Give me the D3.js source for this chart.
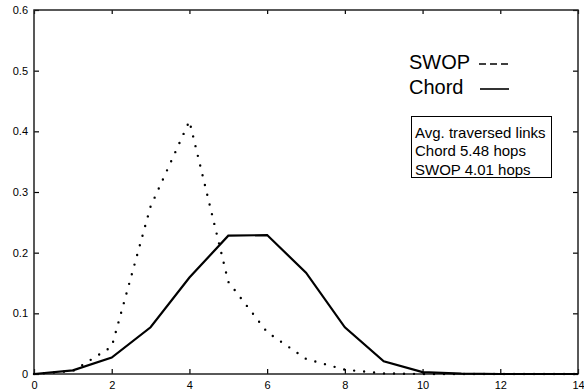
<!DOCTYPE html>
<html>
<head>
<meta charset="utf-8">
<title>Avg. traversed links</title>
<style>
  * { margin: 0; padding: 0 }
  html, body { width: 100%; height: 100%; background: #fff; }
  svg { display: block; }
  text { font-family: "Liberation Sans", Arial, Helvetica, sans-serif; fill: #000; }
</style>
</head>
<body>
<svg id="chart" width="584" height="391"></svg>
<script src="https://cdn.jsdelivr.net/npm/d3@7"></script>
<script>
// hops on the x axis
const hops = [0, 1, 2, 3, 4, 5, 6, 7, 8, 9, 10, 11, 12, 13, 14];
// fraction of lookups per hop count
const chordValues = [0, 0.006, 0.027, 0.077, 0.159, 0.228, 0.229, 0.167, 0.077, 0.021, 0.003, 0.0005, 0, 0, 0];
const swopValues = [0, 0.005, 0.045, 0.276, 0.417, 0.152, 0.069, 0.025, 0.007, 0.001, 0, 0, 0, 0, 0];
const xTicks = [0, 2, 4, 6, 8, 10, 12, 14];
const yTicks = [0, 0.1, 0.2, 0.3, 0.4, 0.5, 0.6];
const infoLines = ["Avg. traversed links", "Chord 5.48 hops", "SWOP 4.01 hops"];

const svg = d3.select("#chart");
const margin = { top: 10, right: 6, bottom: 17, left: 34 };
const width = 584 - margin.left - margin.right;
const height = 391 - margin.top - margin.bottom;

const x = d3.scaleLinear().domain([0, 14]).range([0, width]);
const y = d3.scaleLinear().domain([0, 0.6]).range([height, 0]);

const g = svg.append("g").attr("transform", `translate(${margin.left},${margin.top})`);

// axes, ticks point inward
const fmtY = d => d === 0 ? "0" : d3.format(".1f")(d);
const axes = [
  [d3.axisLeft(y).tickValues(yTicks).tickFormat(fmtY).tickSize(-5).tickPadding(6), null],
  [d3.axisRight(y).tickValues(yTicks).tickFormat("").tickSize(-5), `translate(${width},0)`],
  [d3.axisBottom(x).tickValues(xTicks).tickFormat(d3.format("d")).tickSize(-5).tickPadding(7), `translate(0,${height})`],
  [d3.axisTop(x).tickValues(xTicks).tickFormat("").tickSize(-4), null]
];
axes.forEach(([ax, tr]) => {
  const a = g.append("g").call(ax.tickSizeOuter(0));
  if (tr) a.attr("transform", tr);
  a.select(".domain").remove();
  a.selectAll(".tick line").attr("stroke", "#000").attr("stroke-width", 1.2);
  a.selectAll(".tick text").style("font-size", "11px").attr("fill", "#000");
});

// frame
g.append("rect")
  .attr("x", 0).attr("y", 0)
  .attr("width", width).attr("height", height)
  .attr("fill", "none").attr("stroke", "#222").attr("stroke-width", 1.5);

const line = vals => d3.line()
  .x((d, i) => x(hops[i]))
  .y(d => y(d))(vals);

// SWOP, dotted
g.append("path")
  .attr("d", line(swopValues))
  .attr("fill", "none").attr("stroke", "#000")
  .attr("stroke-width", 2.4)
  .attr("stroke-linecap", "round")
  .attr("stroke-dasharray", "0,10");

// Chord, solid
g.append("path")
  .attr("d", line(chordValues))
  .attr("fill", "none").attr("stroke", "#000")
  .attr("stroke-width", 2.2)
  .attr("stroke-linejoin", "miter");

// legend
const leg = svg.append("g");
leg.append("text").attr("x", 409).attr("y", 69).style("font-size", "20px").text("SWOP");
leg.append("line").attr("x1", 479).attr("x2", 508).attr("y1", 64).attr("y2", 64)
  .attr("stroke", "#000").attr("stroke-width", 1.5).attr("stroke-dasharray", "7,4");
leg.append("text").attr("x", 409).attr("y", 94).style("font-size", "20px").text("Chord");
leg.append("line").attr("x1", 480).attr("x2", 509).attr("y1", 89).attr("y2", 89)
  .attr("stroke", "#000").attr("stroke-width", 1.6);

// info box
const box = svg.append("g");
box.append("rect").attr("x", 411.5).attr("y", 116.5).attr("width", 140).attr("height", 61)
  .attr("fill", "#fff").attr("stroke", "#000").attr("stroke-width", 1);
box.selectAll("text.info").data(infoLines).join("text")
  .attr("class", "info")
  .attr("x", 415)
  .attr("y", (d, i) => 137.5 + i * 18.5)
  .style("font-size", "15px")
  .text(d => d);
</script>
</body>
</html>
